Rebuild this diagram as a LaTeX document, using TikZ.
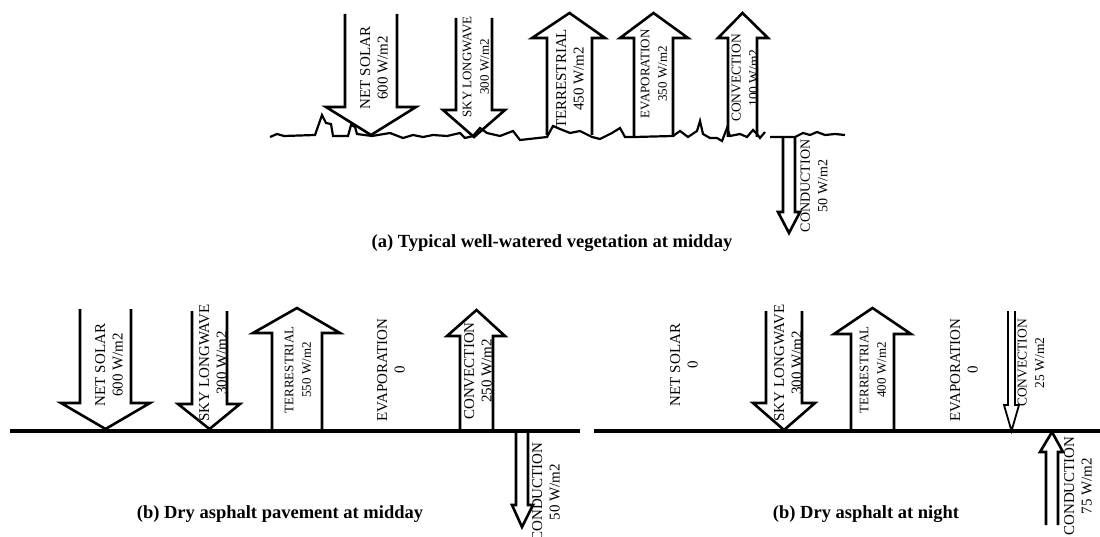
\documentclass[tikz,border=0pt]{standalone}
\usepackage{fontspec}
\setmainfont{Liberation Serif}
\newcommand{\blockarr}[8][arr]{\draw[#1] (#2,#6) -- (#2,#7) -- (#4,#7) -- ({(#2+#3)/2},#8) -- (#5,#7) -- (#3,#7) -- (#3,#6);}
\tikzset{
  arr/.style={line width=2.6pt, line join=miter, miter limit=10},
  thinarr/.style={line width=1.8pt, line join=miter, miter limit=10},
  lbl/.style={rotate=90, align=center, inner sep=0pt, font=\fontsize{#1}{17.5}\selectfont},
  lbl/.default=15,
  captxt/.style={inner sep=0pt, font=\fontsize{18.5}{21}\selectfont\bfseries},
  gnd/.style={line width=4.2pt},
  wavy/.style={line width=2.2pt, line join=miter}
}
\begin{document}
\begin{tikzpicture}[x=1pt,y=-1pt]
\useasboundingbox (0,0) rectangle (1100,537);
% ---------- (a) vegetation ----------
\draw[wavy] (270,137) -- (277,134) -- (284,136) -- (315,135) -- (322,115) -- (326,123) -- (331,124) -- (333,136) -- (348,136) -- (351,125) -- (355,127) -- (357,134) -- (372,136) -- (390,133) -- (403,138) -- (413,135) -- (423,137) -- (433,135) -- (447,136) -- (460,133) -- (465,138) -- (473,136) -- (480,128) -- (487,133) -- (500,136) -- (513,131) -- (520,140) -- (547,137) -- (553,126) -- (560,129) -- (570,133) -- (580,131) -- (592,137) -- (600,139) -- (612,133) -- (620,128) -- (625,137) -- (634,137) -- (673,136) -- (680,131) -- (688,137) -- (697,131) -- (700,121) -- (703,134) -- (710,138) -- (717,138) -- (722,141) -- (727,128) -- (730,136) -- (740,134) -- (747,137) -- (753,130) -- (757,134) -- (760,138) -- (765,132);
\draw[wavy] (770,137) -- (783,137) -- (795,137) -- (803,133) -- (810,135) -- (817,132) -- (825,135) -- (835,134) -- (845,135);
\blockarr{345}{397}{326}{416}{14}{107}{135}
\blockarr{456}{492}{443}{505}{18}{110}{137}
\blockarr{547}{592}{532}{605}{135}{38}{13}
\blockarr{634}{673}{620}{688}{137}{38}{13}
\blockarr{728}{757}{718}{768}{137}{38}{13}
\blockarr{783}{795}{778}{800}{137}{212}{233}
\node[lbl=15] (a1) at (374,68) {NET SOLAR\\600 W/m2};
\node[lbl=13] (a2) at (476,67) {SKY LONGWAVE\\300 W/m2};
\node[lbl=15] (a3) at (570,79) {TERRESTRIAL\\450 W/m2};
\node[lbl=13] (a4) at (654,74) {EVAPORATION\\350 W/m2};
\node[lbl=13.5] (a5) at (745,78) {CONVECTION\\100 W/m2};
\node[lbl=14] (a6) at (814,186) {CONDUCTION\\50 W/m2};
\node[captxt] (capa) at (552,243) {(a) Typical well-watered vegetation at midday};
% ---------- (b) asphalt midday ----------
\draw[gnd] (10,431) -- (580,431);
\blockarr{80}{131}{61}{150}{309}{403}{429}
\blockarr{192}{227}{178}{240}{311}{404}{429}
\blockarr{272}{322}{253}{340}{431}{333}{308}
\blockarr{460}{493}{447}{505}{431}{336}{310}
\blockarr{516}{528}{512}{533}{431}{505}{527}
\node[lbl=15] (b1) at (109,365) {NET SOLAR\\600 W/m2};
\node[lbl=15] (b2) at (213,363) {SKY LONGWAVE\\300 W/m2};
\node[lbl=13] (b3) at (298,370) {TERRESTRIAL\\550 W/m2};
\node[lbl=15] (b4) at (391,370) {EVAPORATION\\0};
\node[lbl=15] (b5) at (478,371) {CONVECTION\\250 W/m2};
\node[lbl=15] (b6) at (546,492) {CONDUCTION\\50 W/m2};
\node[captxt] (capb) at (280,514) {(b) Dry asphalt pavement at midday};
% ---------- (b) asphalt night ----------
\draw[gnd] (594,431) -- (1100,431);
\blockarr{766}{802}{753}{815}{311}{403}{430}
\blockarr{851}{894}{834}{911}{431}{334}{308}
\blockarr[thinarr]{1008}{1015}{1004}{1019}{311}{405}{431}
\blockarr{1046}{1058}{1040}{1063}{525}{452}{432}
\node[lbl=15] (c1) at (684,365) {NET SOLAR\\0};
\node[lbl=15] (c2) at (788,363) {SKY LONGWAVE\\300 W/m2};
\node[lbl=13] (c3) at (873,370) {TERRESTRIAL\\400 W/m2};
\node[lbl=15] (c4) at (964,370) {EVAPORATION\\0};
\node[lbl=13.5] (c5) at (1031,363) {CONVECTION\\25 W/m2};
\node[lbl=15] (c6) at (1078,486) {CONDUCTION\\75 W/m2};
\node[captxt] (capc) at (866,514) {(b) Dry asphalt at night};
\end{tikzpicture}
\end{document}
